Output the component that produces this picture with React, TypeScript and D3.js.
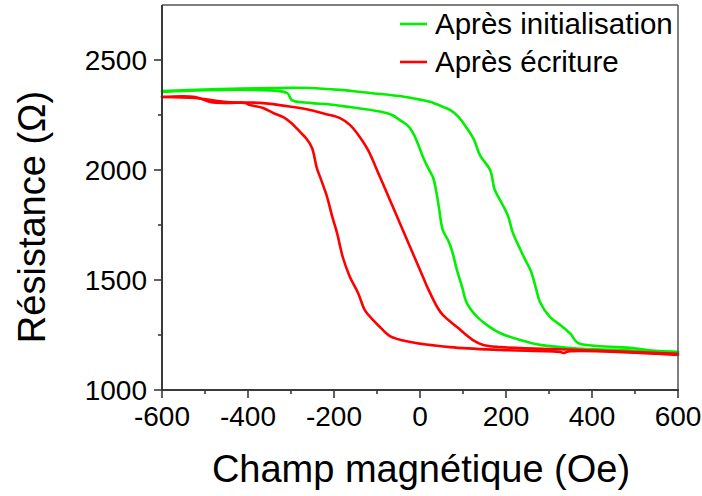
import React from "react";
import * as d3 from "d3";

// Après initialisation — branch sweeping up (-600 → 600)
const initUp: [number, number][] = [
  [-600, 2359], [-465, 2368], [-326, 2373], [-256, 2373], [-186, 2364], [-116, 2350],
  [-47, 2336], [0, 2320], [23, 2310], [50, 2290], [70, 2273], [90, 2240], [109, 2190],
  [125, 2140], [140, 2065], [163, 2000], [174, 1909], [190, 1850], [205, 1790], [215, 1720],
  [233, 1640], [245, 1591], [258, 1540], [270, 1460], [279, 1400], [302, 1332], [330, 1290],
  [350, 1255], [367, 1214], [412, 1200], [495, 1191], [528, 1182], [600, 1173],
];
// Après initialisation — branch sweeping down (600 → -600)
const initDown: [number, number][] = [
  [600, 1173], [349, 1191], [279, 1205], [233, 1227], [186, 1259], [156, 1295], [133, 1332],
  [109, 1395], [98, 1468], [86, 1545], [74, 1636], [65, 1682], [53, 1727], [44, 1830],
  [38, 1900], [30, 1968], [20, 2005], [7, 2059], [-5, 2120], [-16, 2168], [-30, 2205],
  [-47, 2227], [-65, 2250], [-93, 2266], [-163, 2286], [-209, 2298], [-256, 2305],
  [-298, 2318], [-309, 2350], [-395, 2364], [-600, 2355],
];
// Après écriture — branch sweeping up (-600 → 600)
const writeUp: [number, number][] = [
  [-600, 2332], [-523, 2332], [-488, 2309], [-442, 2305], [-407, 2305], [-395, 2295],
  [-365, 2282], [-340, 2258], [-319, 2241], [-300, 2215], [-279, 2173], [-263, 2140],
  [-251, 2100], [-240, 2010], [-228, 1945], [-216, 1877], [-205, 1795], [-193, 1714],
  [-179, 1600], [-163, 1514], [-144, 1441], [-128, 1362], [-110, 1320], [-95, 1290],
  [-70, 1245], [-23, 1218], [70, 1195], [186, 1182], [326, 1173], [335, 1168], [345, 1175],
  [600, 1159],
];
// Après écriture — branch sweeping down (600 → -600)
const writeDown: [number, number][] = [
  [600, 1164], [372, 1182], [186, 1195], [147, 1205], [123, 1227], [86, 1286], [53, 1341],
  [40, 1377], [20, 1455], [7, 1514], [-23, 1650], [-47, 1759], [-70, 1864], [-93, 1968],
  [-121, 2091], [-140, 2150], [-163, 2205], [-186, 2236], [-220, 2255],
  [-256, 2273], [-295, 2286], [-372, 2305], [-449, 2309], [-523, 2327], [-600, 2332],
];

const xTicks = [-600, -400, -200, 0, 200, 400, 600];
const xMinor = [-500, -300, -100, 100, 300, 500];
const yTicks = [1000, 1500, 2000, 2500];
const yMinor = [1250, 1750, 2250];

const seriesNames = ["Après initialisation", "Après écriture"];
const seriesColors = ["#00f000", "#ff0000"];

const W = 702, H = 496;
const L = 162, R = 678, T = 5, B = 390;
const FONT = "'Liberation Sans', Arial, Helvetica, sans-serif";
const AXIS = "#3a3a3a";

export default function App() {
  const x = d3.scaleLinear().domain([-600, 600]).range([L, R]);
  const y = d3.scaleLinear().domain([1000, 2750]).range([B, T]);
  const line = d3
    .line<[number, number]>()
    .x((d) => x(d[0]))
    .y((d) => y(d[1]))
    .curve(d3.curveCatmullRom.alpha(0.5));

  const curves = [
    { d: [initUp, initDown], c: seriesColors[0] },
    { d: [writeUp, writeDown], c: seriesColors[1] },
  ];

  return (
    <svg width={W} height={H} style={{ position: "absolute", left: 0, top: 0, background: "#fff" }}
      fontFamily={FONT}>
      <rect x={0} y={0} width={W} height={H} fill="#fff" />
      {curves.map((s, i) =>
        s.d.map((br, j) => (
          <path key={i + "-" + j} d={line(br) || ""} fill="none" stroke={s.c} strokeWidth={2.6}
            strokeLinejoin="round" strokeLinecap="round" />
        ))
      )}
      {/* frame top/right */}
      <line x1={L} x2={R} y1={T} y2={T} stroke="#555" strokeWidth={1.5} />
      <line x1={R} x2={R} y1={T} y2={B} stroke="#555" strokeWidth={1.5} />
      {/* axes */}
      <line x1={L} x2={R + 1} y1={B} y2={B} stroke={AXIS} strokeWidth={2} />
      <line x1={L} x2={L} y1={T} y2={B + 1} stroke={AXIS} strokeWidth={2} />
      {xTicks.map((t) => (
        <g key={"xt" + t}>
          <line x1={x(t)} x2={x(t)} y1={B} y2={B + 8} stroke={AXIS} strokeWidth={1.6} />
          <text x={x(t)} y={426} fontSize={28} textAnchor="middle" fill="#000">{t}</text>
        </g>
      ))}
      {xMinor.map((t) => (
        <line key={"xm" + t} x1={x(t)} x2={x(t)} y1={B} y2={B + 4} stroke={AXIS} strokeWidth={1.6} />
      ))}
      {yTicks.map((t) => (
        <g key={"yt" + t}>
          <line x1={L - 8} x2={L} y1={y(t)} y2={y(t)} stroke={AXIS} strokeWidth={1.6} />
          <text x={147} y={y(t) + 10} fontSize={28} textAnchor="end" fill="#000">{t}</text>
        </g>
      ))}
      {yMinor.map((t) => (
        <line key={"ym" + t} x1={L - 4} x2={L} y1={y(t)} y2={y(t)} stroke={AXIS} strokeWidth={1.6} />
      ))}
      {/* axis titles */}
      <text x={421} y={482} fontSize={38} textAnchor="middle" fill="#000">Champ magnétique (Oe)</text>
      <text transform="translate(45,217) rotate(-90)" fontSize={38} textAnchor="middle" fill="#000">
        Résistance (Ω)
      </text>
      {/* legend */}
      {seriesNames.map((n, i) => (
        <g key={n}>
          <line x1={400} x2={427} y1={24 + i * 38} y2={24 + i * 38} stroke={seriesColors[i]} strokeWidth={2.6} />
          <text x={435} y={34 + i * 38} fontSize={29.5} fill="#000">{n}</text>
        </g>
      ))}
    </svg>
  );
}
